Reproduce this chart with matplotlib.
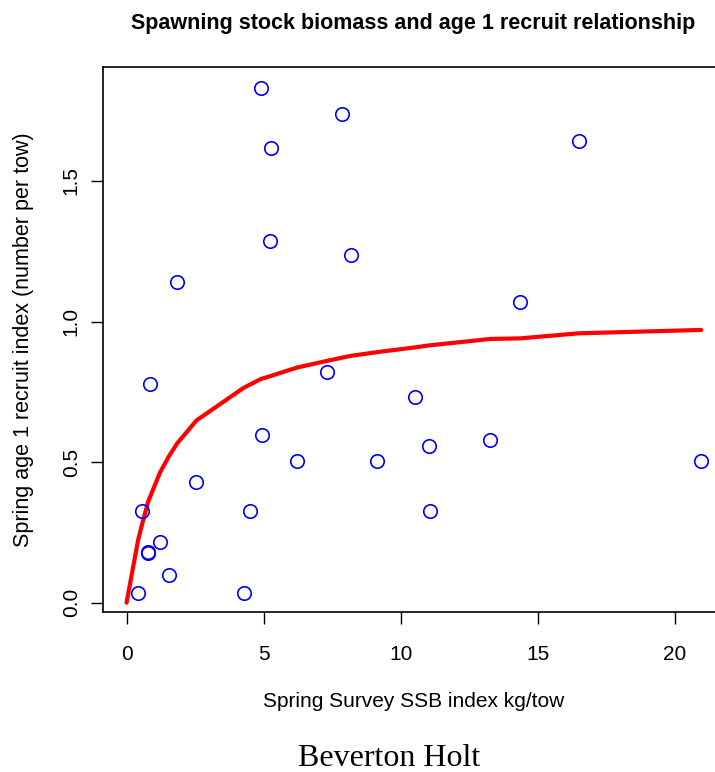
import numpy as np
import matplotlib.pyplot as plt

# observed points: spring survey SSB index (kg/tow) vs age 1 recruit index
ssb = [4.89, 7.86, 5.26, 16.50, 5.22, 8.19, 1.85, 14.37, 0.86, 7.31,
       10.53, 4.93, 6.21, 9.14, 11.04, 13.28, 20.97, 2.55, 0.57, 4.49,
       11.08, 1.23, 0.79, 0.80, 1.56, 0.42, 4.27]
recruits = [1.829, 1.737, 1.616, 1.641, 1.288, 1.238, 1.139, 1.068, 0.776, 0.819,
            0.730, 0.598, 0.505, 0.505, 0.559, 0.577, 0.505, 0.431, 0.327, 0.327,
            0.327, 0.217, 0.178, 0.180, 0.100, 0.036, 0.036]

# Beverton Holt fitted curve
fit_ssb = [0.0, 0.42, 0.57, 0.79, 1.23, 1.56, 1.85, 2.55, 4.27, 4.89, 5.22,
           6.21, 7.31, 8.19, 9.14, 10.53, 11.04, 13.28, 14.37, 16.50, 20.97]
fit_rec = [0.0, 0.222, 0.280, 0.360, 0.465, 0.523, 0.567, 0.648, 0.764, 0.795, 0.805,
           0.836, 0.860, 0.878, 0.891, 0.908, 0.915, 0.938, 0.940, 0.958, 0.970]

plt.rcParams['font.family'] = ['Liberation Sans', 'DejaVu Sans']

fig = plt.figure(figsize=(7.15, 7.72), dpi=100)
ax = fig.add_axes([103/715, 160/772, 622/715, 545/772])

ax.plot(fit_ssb, fit_rec, color='#FF0000', lw=3, zorder=2, solid_capstyle='round')
ax.plot(ssb, recruits, 'o', ms=9.7, mfc='none', mec='#0000FF', mew=1.2, zorder=3)

ax.set_xlim(-0.86, 21.84)
ax.set_ylim(-0.033, 1.905)
ax.set_xticks([0, 5, 10, 15, 20])
ax.set_yticks([0.0, 0.5, 1.0, 1.5])
ax.set_yticklabels(['0.0', '0.5', '1.0', '1.5'], rotation=90, va='center')
ax.tick_params(direction='out', length=8.6, width=1, labelsize=15)
ax.tick_params(axis='x', pad=15)
ax.tick_params(axis='y', pad=7.5)
for s in ax.spines.values():
    s.set_linewidth(1.2)

ax.set_xlabel('Spring Survey SSB index kg/tow', fontsize=15, labelpad=20.5)
ax.set_ylabel('Spring age 1 recruit index (number per tow)', fontsize=15.5, labelpad=20)

fig.text(413/715, 1 - 23/772, 'Spawning stock biomass and age 1 recruit relationship',
         ha='center', va='center', fontsize=15.5, fontweight='bold')
fig.text(389/715, 1 - 758/772, 'Beverton Holt', ha='center', va='center',
         fontsize=23, family='Liberation Serif')

fig.savefig('out.png', dpi=100)
